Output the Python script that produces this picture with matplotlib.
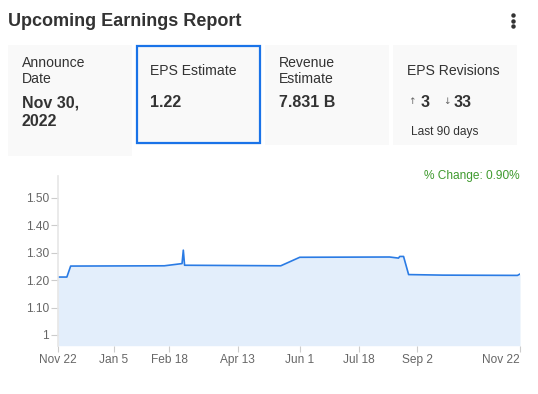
import matplotlib

matplotlib.use("Agg")
import matplotlib.pyplot as plt
import matplotlib.dates as mdates
from matplotlib.lines import Line2D
from matplotlib.patches import Rectangle
from datetime import date

# EPS estimate history
eps_dates = [
    date(2021, 11, 22), date(2021, 11, 29), date(2021, 12, 2), date(2022, 2, 14),
    date(2022, 2, 28), date(2022, 3, 1), date(2022, 3, 2), date(2022, 5, 17),
    date(2022, 6, 1), date(2022, 8, 11), date(2022, 8, 18), date(2022, 8, 19),
    date(2022, 8, 22), date(2022, 8, 26), date(2022, 9, 22), date(2022, 11, 20),
    date(2022, 11, 22),
]
eps_values = [
    1.211, 1.211, 1.251, 1.252, 1.260, 1.309, 1.254, 1.252,
    1.283, 1.284, 1.280, 1.286, 1.286, 1.220, 1.218, 1.217,
    1.222,
]
tick_dates = [
    date(2021, 11, 22), date(2022, 1, 5), date(2022, 2, 18), date(2022, 4, 13),
    date(2022, 6, 1), date(2022, 7, 18), date(2022, 9, 2), date(2022, 11, 22),
]
tick_labels = ["Nov 22", "Jan 5", "Feb 18", "Apr 13", "Jun 1", "Jul 18", "Sep 2", "Nov 22"]
y_ticks = [1.0, 1.1, 1.2, 1.3, 1.4, 1.5]
y_labels = ["1", "1.10", "1.20", "1.30", "1.40", "1.50"]

card_labels = [["Announce", "Date"], ["EPS Estimate"], ["Revenue", "Estimate"], ["EPS Revisions"]]
card_values = [["Nov 30,", "2022"], ["1.22"], ["7.831 B"], []]
revisions_up = 3
revisions_down = 33
pct_change = "0.90%"

W, H = 538, 394
FONT = ["Liberation Sans", "DejaVu Sans"]
plt.rcParams["font.family"] = FONT

fig = plt.figure(figsize=(W / 100, H / 100), dpi=100)
fig.patch.set_facecolor("white")


def fx(px):
    return px / W


def fy(py):
    return 1 - py / H


def ftext(x, y, s, **kw):
    kw.setdefault("color", "#333333")
    kw.setdefault("va", "center")
    return fig.text(fx(x), fy(y), s, **kw)


ftext(8, 21.5, "Upcoming Earnings Report", fontsize=13, fontweight="bold")
fig.add_artist(Line2D([fx(513)] * 3, [fy(15), fy(20.5), fy(26)], transform=fig.transFigure,
                      marker="o", ls="none", ms=2.2, color="#333333"))

# cards
card_x = [8, 136, 265, 393]
card_w = 124
for i, x0 in enumerate(card_x):
    bottom = 156 if i == 0 else 144.5
    fig.add_artist(Rectangle((fx(x0), fy(bottom)), fx(card_w), fy(45) - fy(bottom),
                             transform=fig.transFigure, facecolor="#f9f9f9", edgecolor="none"))
    tx = x0 + 14
    lines = card_labels[i]
    if len(lines) == 2:
        ftext(tx, 62.7, lines[0], fontsize=10.1)
        ftext(tx, 78.7, lines[1], fontsize=10.1)
    else:
        ftext(tx, 70.7, lines[0], fontsize=10.1)
    vals = card_values[i]
    for j, v in enumerate(vals):
        ftext(tx, 102.5 + j * 19.5, v, fontsize=11.5, fontweight="bold")

# highlighted card border
fig.add_artist(Rectangle((fx(137), fy(143.5)), fx(123), fy(46) - fy(143.5), transform=fig.transFigure,
                         facecolor="none", edgecolor="#1a73e8", lw=1.6))

# revisions card content
ftext(408, 102, "\u2191", fontsize=6.5, color="#666666", family=["DejaVu Sans"])
ftext(421, 102.5, str(revisions_up), fontsize=11.5, fontweight="bold")
ftext(443, 102, "\u2193", fontsize=6.5, color="#666666", family=["DejaVu Sans"])
ftext(453.5, 102.5, str(revisions_down), fontsize=11.5, fontweight="bold")
ftext(411, 131.7, "Last 90 days", fontsize=8.6)

ftext(520, 176, f"% Change: {pct_change}", fontsize=8.6, color="#3f9a2e", ha="right")

# chart
ax = fig.add_axes([fx(58), fy(345.7), fx(520) - fx(58), fy(176) - fy(345.7)])
xs = mdates.date2num(eps_dates)
ax.fill_between(xs, eps_values, 0.961, color="#e3eefb", lw=0)
ax.plot(xs, eps_values, color="#2a7be4", lw=1.2)
ax.set_xlim(mdates.date2num(tick_dates[0]), mdates.date2num(tick_dates[-1]))
ax.set_ylim(0.961, 1.579)

for side in ("top", "right", "bottom"):
    ax.spines[side].set_visible(False)
ax.spines["left"].set_color("#e6e6e6")
ax.spines["left"].set_linewidth(1.2)

ax.set_yticks(y_ticks)
ax.set_yticklabels(y_labels)
ax.set_xticks(mdates.date2num(tick_dates))
ax.set_xticklabels(tick_labels)
ax.tick_params(axis="y", length=5, width=0.8, color="#cccccc", labelcolor="#666666",
               labelsize=8.6, pad=1.5)
ax.tick_params(axis="x", length=4.3, width=0.8, color="#cccccc", labelcolor="#666666",
               labelsize=8.6, pad=2)
ax.get_xticklabels()[-1].set_ha("right")
ax.patch.set_alpha(0)

fig.savefig("out.png", dpi=100)
